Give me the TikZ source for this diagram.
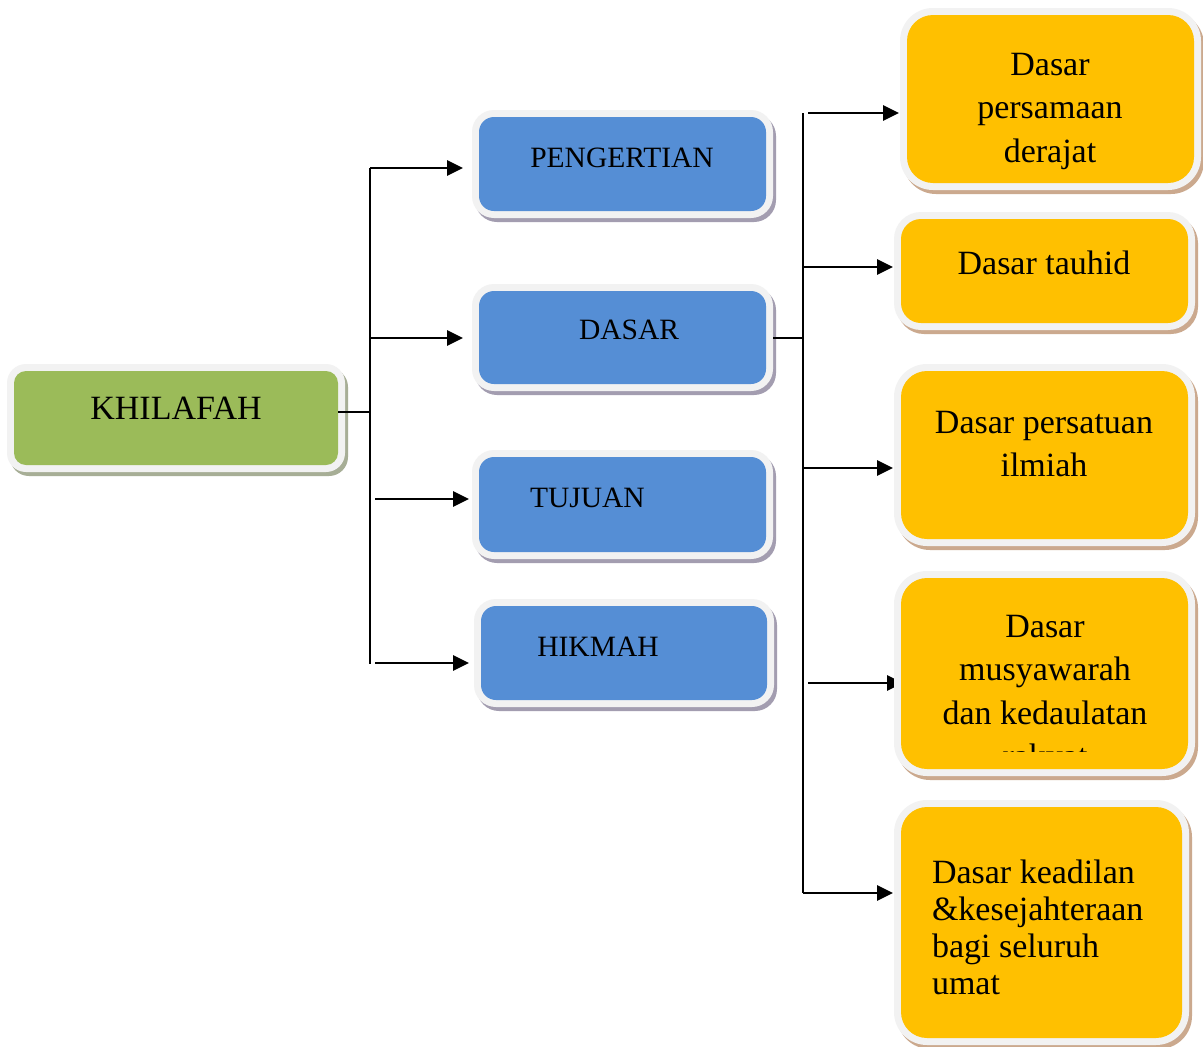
\documentclass[tikz,border=0pt]{standalone}
\usepackage{fontspec}
\setmainfont{Liberation Serif}
\usetikzlibrary{arrows.meta}
\definecolor{kgreen}{HTML}{9BBB59}
\definecolor{kblue}{HTML}{558ED5}
\definecolor{kyellow}{HTML}{FFC000}
\definecolor{kring}{HTML}{F2F2F2}
\definecolor{gshadow}{HTML}{A7AE96}
\definecolor{bshadow}{HTML}{A39DB0}
\definecolor{yshadow}{HTML}{CBA98E}
\newcommand\fntK{\fontsize{34}{40}\selectfont}
\newcommand\fntB{\fontsize{29.5}{35}\selectfont}
\newcommand\fntY{\fontsize{34}{43.5}\selectfont}
\newcommand\fntYb{\fontsize{34}{37}\selectfont}
\newcommand\firstln{\rule{0pt}{30pt}}
% \mybox{name}{x1}{y1}{x2}{y2}{inner radius}{ring radius}{fill}{shadow}
\newcommand\mybox[9]{%
  \fill[#9, rounded corners=#7] (#2-4,#3-3) rectangle (#4+10,#5+11);
  \fill[kring, rounded corners=#7] (#2-7,#3-7) rectangle (#4+7,#5+7);
  \node[inner sep=0pt, outer sep=0pt, fill=#8, rounded corners=#6,
        minimum width={(#4-#2)*1pt}, minimum height={(#5-#3)*1pt}]
        (#1) at ({(#2+#4)/2},{(#3+#5)/2}) {};
}
\tikzset{
  ln/.style={line width=2.7pt, black},
  arr/.style={line width=2.7pt, black, -{Triangle[length=16pt,width=15pt]}},
  txt/.style={inner sep=0pt, outer sep=0pt, text=black}
}
\begin{document}
\begin{tikzpicture}[x=1pt,y=-1pt]
\useasboundingbox (0,0) rectangle (1203,1047);
\fill[white] (0,0) rectangle (1203,1047);

% arrow into box 4 (head mostly hidden by the box)
\coordinate (r4) at (808,683);
\coordinate (r4e) at (903,683);
\draw[arr] (r4) -- (r4e);

% boxes
\mybox{kh}{14}{371}{338}{465}{12pt}{19pt}{kgreen}{gshadow}
\mybox{peng}{479}{117}{766}{211}{15pt}{22pt}{kblue}{bshadow}
\mybox{dasar}{479}{291}{766}{384}{15pt}{22pt}{kblue}{bshadow}
\mybox{tujuan}{479}{457}{766}{552}{15pt}{22pt}{kblue}{bshadow}
\mybox{hikmah}{481}{606}{767}{700}{15pt}{22pt}{kblue}{bshadow}
\mybox{b1}{907}{15}{1194}{183}{26pt}{33pt}{kyellow}{yshadow}
\mybox{b2}{901}{219}{1188}{323}{20pt}{27pt}{kyellow}{yshadow}
\mybox{b3}{901}{371}{1188}{539}{26pt}{33pt}{kyellow}{yshadow}
\mybox{b4}{901}{578}{1188}{769}{26pt}{33pt}{kyellow}{yshadow}
\mybox{b5}{901}{807}{1182}{1038}{26pt}{33pt}{kyellow}{yshadow}

% texts
\node[txt, font=\fntK, anchor=base] (tkh) at (176,419) {KHILAFAH};
\node[txt, font=\fntB, anchor=base] (tpeng) at (622,167) {PENGERTIAN};
\node[txt, font=\fntB, anchor=base] (tdasar) at (629,339) {DASAR};
\node[txt, font=\fntB, anchor=base west] (ttujuan) at (530,507) {TUJUAN};
\node[txt, font=\fntB, anchor=base] (thikmah) at (598,656) {HIKMAH};
\node[txt, font=\fntY, align=center, anchor=north] (tb1) at (1050,45)
  {\firstln Dasar\\persamaan\\derajat};
\node[txt, font=\fntY, anchor=base] (tb2) at (1044,274) {Dasar tauhid};
\node[txt, font=\fntY, align=center, anchor=north] (tb3) at (1044,403)
  {\firstln Dasar persatuan\\ilmiah};
\begin{scope}
  \clip (890,560) rectangle (1200,751);
  \node[txt, font=\fntY, align=center, anchor=north] (tb4) at (1045,607)
    {\firstln Dasar\\musyawarah\\dan kedaulatan\\rakyat};
\end{scope}
\node[txt, font=\fntYb, align=left, anchor=north west] (tb5) at (932,853)
  {\firstln Dasar keadilan\\\&kesejahteraan\\bagi seluruh\\umat};

% left connectors
\coordinate (jL) at (370,412);
\draw[ln] (kh.east |- jL) -- (jL);
\coordinate (tLtop) at (370,168);
\coordinate (tLbot) at (370,664);
\draw[ln] (tLtop) -- (tLbot);
\draw[arr, shorten >=16pt] (tLtop) -- (tLtop -| peng.west);
\coordinate (aD) at (370,338);
\draw[arr, shorten >=16pt] (aD) -- (aD -| dasar.west);
\coordinate (aT) at (375,499);
\draw[arr, shorten >=10pt] (aT) -- (aT -| tujuan.west);
\coordinate (aH) at (375,663);
\draw[arr, shorten >=12pt] (aH) -- (aH -| hikmah.west);

% right connectors
\coordinate (jR) at (804,338);
\draw[ln, shorten <=7pt] (dasar.east |- jR) -- (jR);
\coordinate (tRtop) at (803,113);
\coordinate (tRbot) at (803,893);
\draw[ln] (tRtop) -- (tRbot);
\coordinate (r1) at (808,113);
\draw[arr, shorten >=8pt] (r1) -- (r1 -| b1.west);
\coordinate (r2) at (803,267);
\draw[arr, shorten >=8pt] (r2) -- (r2 -| b2.west);
\coordinate (r3) at (803,468);
\draw[arr, shorten >=8pt] (r3) -- (r3 -| b3.west);
\draw[arr, shorten >=8pt] (tRbot) -- (tRbot -| b5.west);
\end{tikzpicture}
\end{document}
